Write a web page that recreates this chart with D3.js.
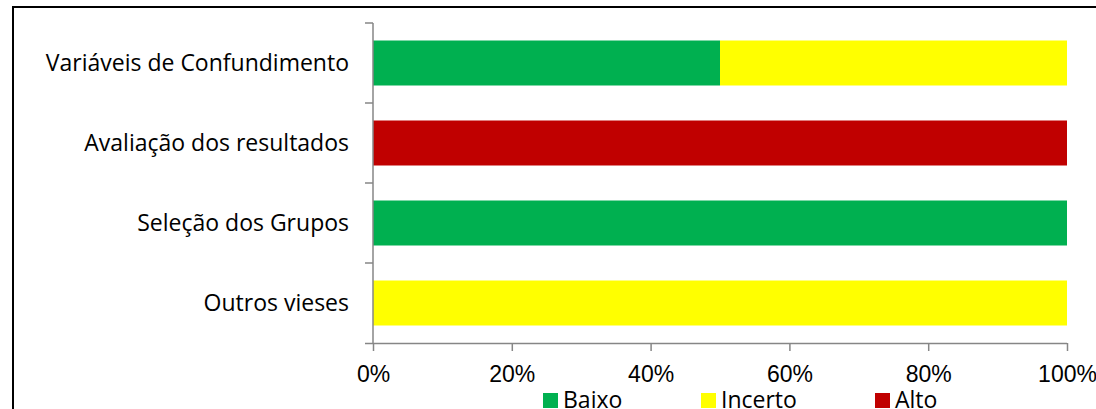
<!DOCTYPE html>
<html>
<head>
<meta charset="utf-8">
<script src="https://cdn.jsdelivr.net/npm/d3@7"></script>
<style>
  body { margin: 0; background: #fff; }
  svg { display: block; font-family: "Open Sans", "Liberation Sans", sans-serif; }
</style>
</head>
<body>
<div id="chart"></div>
<script>
// Data
var categories = ["Variáveis de Confundimento", "Avaliação dos resultados", "Seleção dos Grupos", "Outros vieses"];
var seriesNames = ["Baixo", "Incerto", "Alto"];
var baixo = [50, 0, 100, 0];
var incerto = [50, 0, 0, 100];
var alto = [0, 100, 0, 0];
var seriesColors = ["#00B050", "#FFFF00", "#C00000"];
var tickValues = [0, 20, 40, 60, 80, 100];

var svgWidth = 1096;
var svgHeight = 409;
var margin = { top: 23, left: 373, right: 29, bottom: 66 };
var width = 1067 - margin.left;
var height = 343 - margin.top;
var fontSize = "23px";

var svg = d3.select("#chart").append("svg")
  .attr("width", svgWidth)
  .attr("height", svgHeight);

// outer frame (cut by the window on right and bottom)
svg.append("rect")
  .attr("x", 13).attr("y", 7)
  .attr("width", 1100).attr("height", 420)
  .attr("fill", "none")
  .attr("stroke", "#000")
  .attr("stroke-width", 2);

var chartGroup = svg.append("g")
  .attr("transform", `translate(${margin.left}, ${margin.top})`);

// build rows for stacking
var rows = categories.map(function (c, i) {
  return { cat: c, Baixo: baixo[i], Incerto: incerto[i], Alto: alto[i] };
});
var stacked = d3.stack().keys(seriesNames)(rows);

var xScale = d3.scaleLinear().domain([0, 100]).range([0, width]);
var yScale = d3.scaleBand().domain(categories).range([0, height])
  .paddingInner(0.4375).paddingOuter(0.21875);

var color = d3.scaleOrdinal().domain(seriesNames).range(seriesColors);

// bars
chartGroup.selectAll("g.series")
  .data(stacked)
  .enter()
  .append("g")
  .attr("class", "series")
  .attr("fill", d => color(d.key))
  .selectAll("rect")
  .data(d => d)
  .enter()
  .append("rect")
  .attr("x", d => xScale(d[0]))
  .attr("width", d => xScale(d[1]) - xScale(d[0]))
  .attr("y", d => yScale(d.data.cat))
  .attr("height", yScale.bandwidth());

// x axis
var bottomAxis = d3.axisBottom(xScale)
  .tickValues(tickValues)
  .tickFormat(d => d + "%")
  .tickSizeInner(8)
  .tickSizeOuter(0)
  .tickPadding(15);

var xAxis = chartGroup.append("g")
  .attr("transform", `translate(0, ${height})`)
  .call(bottomAxis);
xAxis.select(".domain").attr("stroke", "#868686").attr("stroke-width", 1.5)
  .attr("d", `M-8,0.5H${width}`);
xAxis.selectAll(".tick line").attr("stroke", "#868686").attr("stroke-width", 1.5);
xAxis.selectAll(".tick text")
  .attr("fill", "#000")
  .style("font-size", fontSize);

// y axis: line plus tick marks at category boundaries
var yAxisGroup = chartGroup.append("g");
yAxisGroup.append("line")
  .attr("x1", 0).attr("x2", 0)
  .attr("y1", 0).attr("y2", height)
  .attr("stroke", "#868686").attr("stroke-width", 1.5);
var boundaries = d3.range(categories.length).map(i => i * height / categories.length);
yAxisGroup.selectAll("line.bnd")
  .data(boundaries)
  .enter()
  .append("line")
  .attr("class", "bnd")
  .attr("x1", -8).attr("x2", 0)
  .attr("y1", d => d).attr("y2", d => d)
  .attr("stroke", "#868686").attr("stroke-width", 1.5);

yAxisGroup.selectAll("text.cat")
  .data(categories)
  .enter()
  .append("text")
  .attr("class", "cat")
  .attr("x", -24)
  .attr("y", d => yScale(d) + yScale.bandwidth() / 2)
  .attr("dy", "0.35em")
  .attr("text-anchor", "end")
  .style("font-size", fontSize)
  .attr("fill", "#000")
  .text(d => d);

// legend
var legendX = [543, 701, 875];
var legend = svg.selectAll("g.legend")
  .data(seriesNames)
  .enter()
  .append("g")
  .attr("class", "legend")
  .attr("transform", (d, i) => `translate(${legendX[i]}, 393)`);
legend.append("rect")
  .attr("width", 15).attr("height", 15)
  .attr("fill", d => color(d));
legend.append("text")
  .attr("x", 20).attr("y", 7)
  .attr("dy", "0.35em")
  .style("font-size", fontSize)
  .attr("fill", "#000")
  .text(d => d);
</script>
</body>
</html>
